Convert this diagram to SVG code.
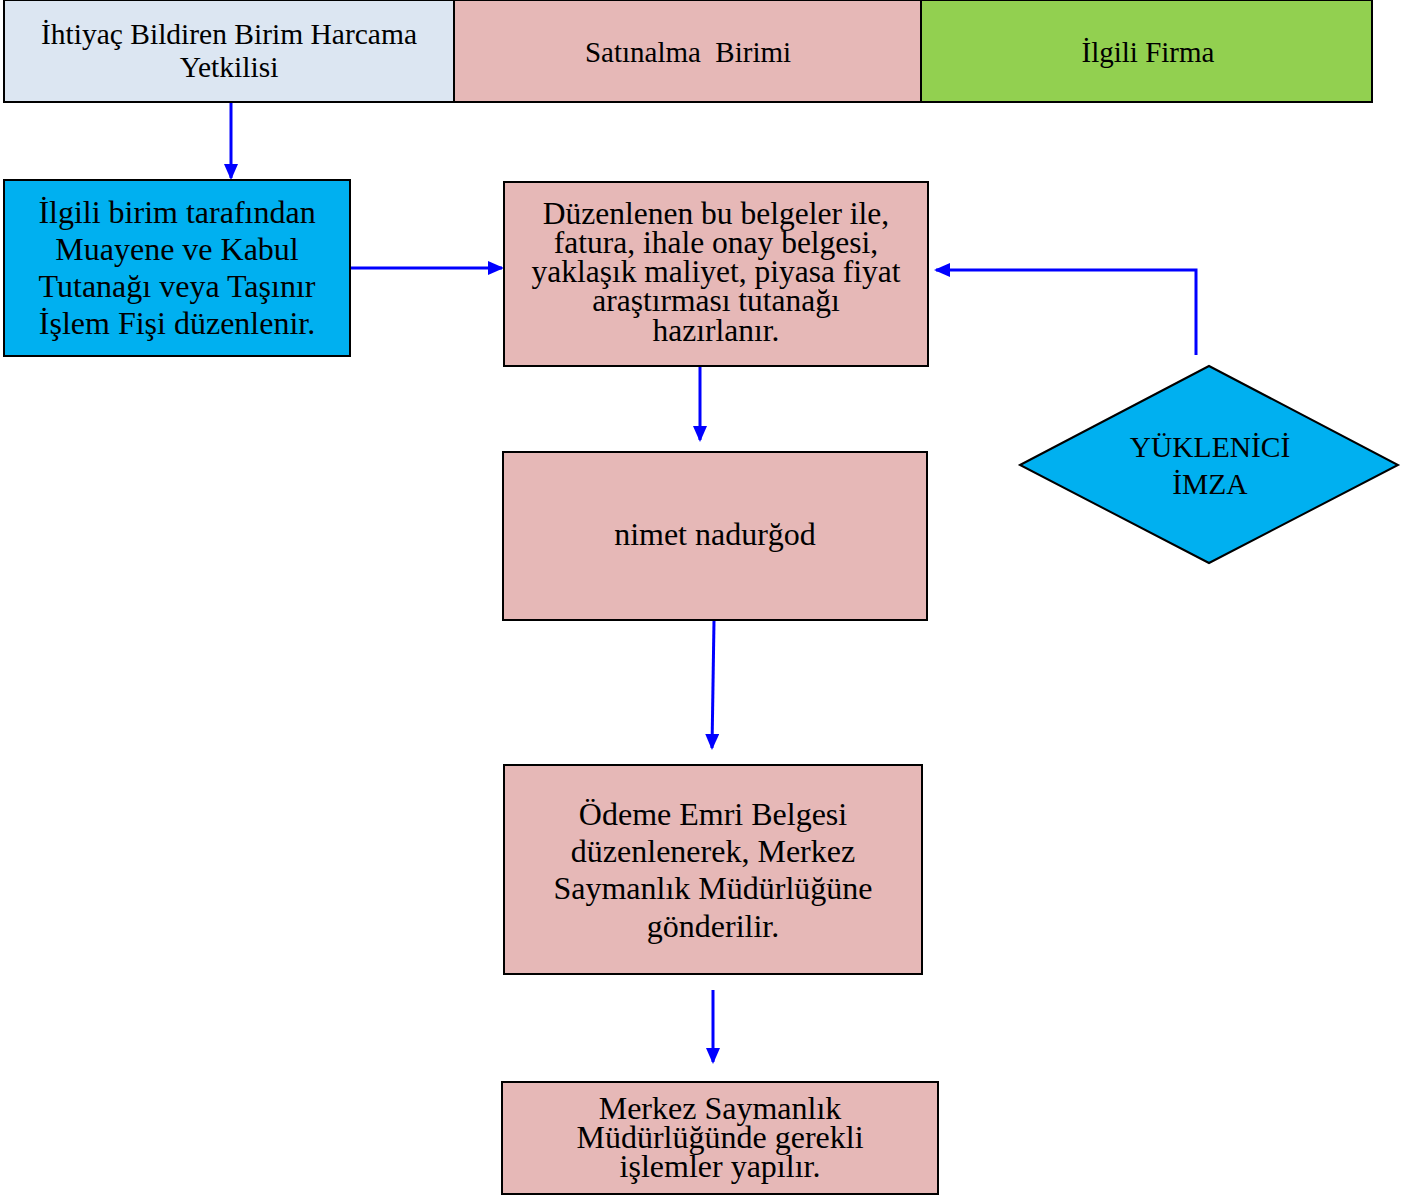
<svg xmlns="http://www.w3.org/2000/svg" width="1416" height="1196" viewBox="0 0 1416 1196">
<style>
.b{stroke:#000;stroke-width:2}
.t{font-family:"Liberation Serif",serif;fill:#000;text-anchor:middle}
.c{fill:none;stroke:#0000ff;stroke-width:3}
</style>
<defs>
<marker id="a" markerUnits="userSpaceOnUse" markerWidth="16" markerHeight="14" refX="14" refY="7" orient="auto">
<path d="M0,0 L16,7 L0,14 Z" fill="#0000ff"/>
</marker>
</defs>
<rect width="1416" height="1196" fill="#fff"/>
<g id="header">
<rect class="b" x="4" y="0" width="450" height="102" fill="#dce6f2"/>
<rect class="b" x="454" y="0" width="467" height="102" fill="#e6b8b7"/>
<rect class="b" x="921" y="0" width="451" height="102" fill="#92d050"/>
<text class="t" font-size="29.5" x="229" y="44">İhtiyaç Bildiren Birim Harcama</text>
<text class="t" font-size="29.5" x="229" y="77">Yetkilisi</text>
<text class="t" font-size="29" x="688" y="62" xml:space="preserve">Satınalma  Birimi</text>
<text class="t" font-size="29" x="1148" y="62">İlgili Firma</text>
</g>
<g id="connectors">
<line class="c" x1="231" y1="103" x2="231" y2="178" marker-end="url(#a)"/>
<line class="c" x1="351" y1="268" x2="502" y2="268" marker-end="url(#a)"/>
<polyline class="c" points="1196,355 1196,270 936,270" marker-end="url(#a)"/>
<line class="c" x1="700" y1="367" x2="700" y2="440" marker-end="url(#a)"/>
<line class="c" x1="714" y1="621" x2="712" y2="748" marker-end="url(#a)"/>
<line class="c" x1="713" y1="990" x2="713" y2="1062" marker-end="url(#a)"/>
</g>
<g id="n1">
<rect class="b" x="4" y="180" width="346" height="176" fill="#00b0f0"/>
<text class="t" font-size="32" x="177" y="223">İlgili birim tarafından</text>
<text class="t" font-size="32" x="177" y="260">Muayene ve Kabul</text>
<text class="t" font-size="32" x="177" y="297">Tutanağı veya Taşınır</text>
<text class="t" font-size="32" x="177" y="334">İşlem Fişi düzenlenir.</text>
</g>
<g id="n2">
<rect class="b" x="504" y="182" width="424" height="184" fill="#e6b8b7"/>
<text class="t" font-size="31.5" x="716" y="224">Düzenlenen bu belgeler ile,</text>
<text class="t" font-size="31.5" x="716" y="253">fatura, ihale onay belgesi,</text>
<text class="t" font-size="31.5" x="716" y="282">yaklaşık maliyet, piyasa fiyat</text>
<text class="t" font-size="31.5" x="716" y="311">araştırması tutanağı</text>
<text class="t" font-size="31.5" x="716" y="341">hazırlanır.</text>
</g>
<g id="n3">
<polygon class="b" points="1020,465 1209,366 1398,465 1209,563" fill="#00b0f0"/>
<text class="t" font-size="29.5" x="1210" y="457">YÜKLENİCİ</text>
<text class="t" font-size="29.5" x="1210" y="494">İMZA</text>
</g>
<g id="n4">
<rect class="b" x="503" y="452" width="424" height="168" fill="#e6b8b7"/>
<text class="t" font-size="32" x="715" y="545">nimet nadurğod</text>
</g>
<g id="n5">
<rect class="b" x="504" y="765" width="418" height="209" fill="#e6b8b7"/>
<text class="t" font-size="32" x="713" y="825">Ödeme Emri Belgesi</text>
<text class="t" font-size="32" x="713" y="862">düzenlenerek, Merkez</text>
<text class="t" font-size="32" x="713" y="899">Saymanlık Müdürlüğüne</text>
<text class="t" font-size="32" x="713" y="937">gönderilir.</text>
</g>
<g id="n6">
<rect class="b" x="502" y="1082" width="436" height="112" fill="#e6b8b7"/>
<text class="t" font-size="32" x="720" y="1119">Merkez Saymanlık</text>
<text class="t" font-size="32" x="720" y="1148">Müdürlüğünde gerekli</text>
<text class="t" font-size="32" x="720" y="1177">işlemler yapılır.</text>
</g>
</svg>
